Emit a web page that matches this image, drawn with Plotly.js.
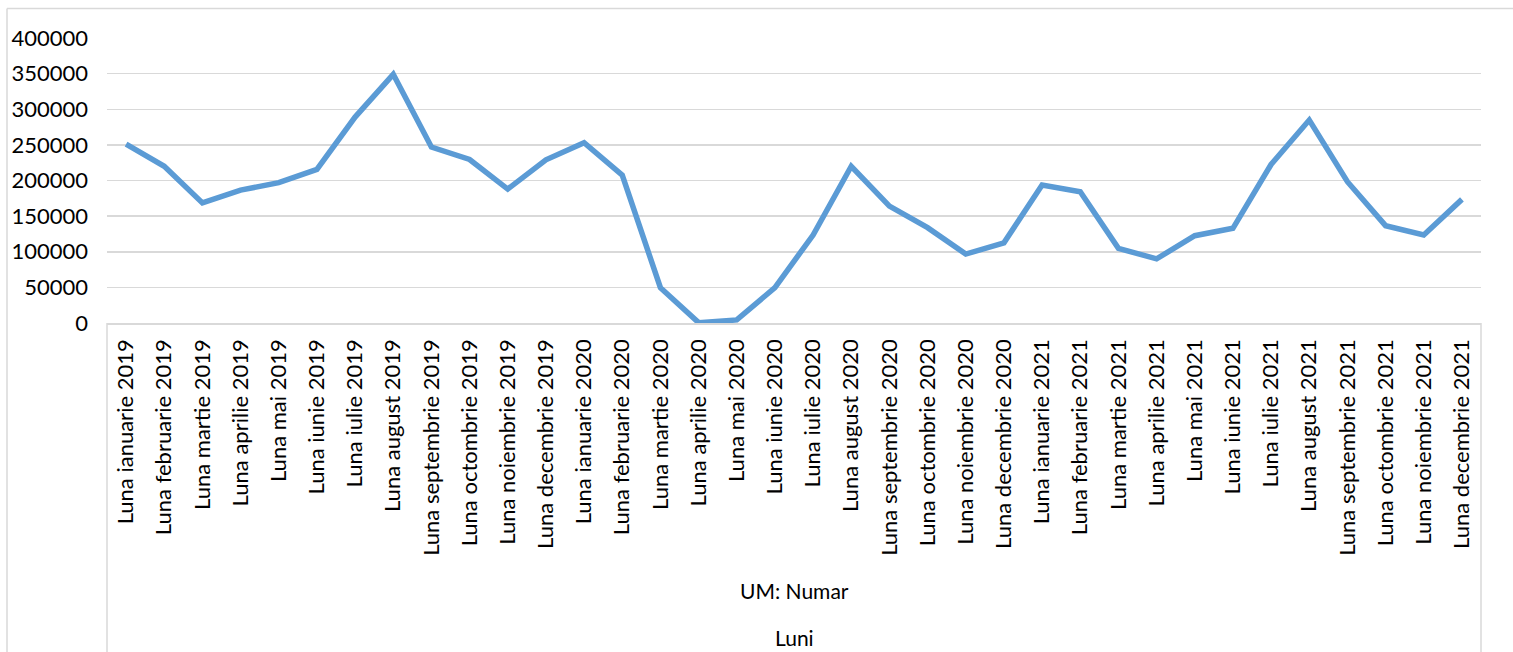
<!DOCTYPE html>
<html>
<head>
<meta charset="utf-8">
<script src="https://cdn.plot.ly/plotly-3.0.1.min.js"></script>
<style>
html,body{margin:0;padding:0;background:#fff;}
#chart{width:1513px;height:652px;}
</style>
</head>
<body>
<div id="chart"></div>
<script>
const months = [
  "Luna ianuarie 2019","Luna februarie 2019","Luna martie 2019","Luna aprilie 2019",
  "Luna mai 2019","Luna iunie 2019","Luna iulie 2019","Luna august 2019",
  "Luna septembrie 2019","Luna octombrie 2019","Luna noiembrie 2019","Luna decembrie 2019",
  "Luna ianuarie 2020","Luna februarie 2020","Luna martie 2020","Luna aprilie 2020",
  "Luna mai 2020","Luna iunie 2020","Luna iulie 2020","Luna august 2020",
  "Luna septembrie 2020","Luna octombrie 2020","Luna noiembrie 2020","Luna decembrie 2020",
  "Luna ianuarie 2021","Luna februarie 2021","Luna martie 2021","Luna aprilie 2021",
  "Luna mai 2021","Luna iunie 2021","Luna iulie 2021","Luna august 2021",
  "Luna septembrie 2021","Luna octombrie 2021","Luna noiembrie 2021","Luna decembrie 2021"
];
const values = [
  251000, 220000, 168500, 186500, 197000, 215500, 289000, 349000,
  247000, 229500, 188000, 229000, 253000, 207500, 49600, 500,
  4300, 49800, 123500, 220000, 164000, 133800, 96800, 112500,
  193800, 184200, 104800, 90000, 122500, 132900, 222500, 284800,
  198300, 136600, 123500, 173500
];
const yTicks = [0, 50000, 100000, 150000, 200000, 250000, 300000, 350000, 400000];
const unitLabel = "UM: Numar";
const axisLabel = "Luni";

const W = 1513, H = 652;
const L = 107, R = 32, T = 38, B = 329;
const pw = W - L - R, ph = H - T - B;
const px = x => (x - L) / pw;
const py = y => (H - B - y) / ph;

const font = "Lato, 'Open Sans', sans-serif";
const grid = "#D9D9D9";

const trace = {
  type: "scatter",
  mode: "lines",
  x: months,
  y: values,
  line: {color: "#5B9BD5", width: 5.5, shape: "linear"},
  hoverinfo: "x+y"
};

const layout = {
  width: W, height: H,
  margin: {l: L, r: R, t: T, b: B, pad: 0},
  paper_bgcolor: "#fff",
  plot_bgcolor: "#fff",
  showlegend: false,
  font: {family: font, size: 22, color: "#000"},
  xaxis: {
    type: "category",
    tickangle: -90,
    showgrid: false,
    zeroline: false,
    showline: true,
    linecolor: grid,
    linewidth: 1.5,
    ticks: "",
    ticklabelstandoff: 6,
    tickfont: {family: font, size: 22, color: "#000"},
    automargin: false,
    range: [-0.5, months.length - 0.5]
  },
  yaxis: {
    range: [0, 400000],
    tickvals: yTicks,
    ticktext: yTicks.map(v => String(v)),
    showgrid: true,
    gridcolor: grid,
    gridwidth: 1.5,
    zeroline: false,
    showline: false,
    ticks: "",
    ticklabelstandoff: 18,
    tickfont: {family: font, size: 22, color: "#000"},
    automargin: false,
    fixedrange: true
  },
  shapes: [
    {type: "line", xref: "paper", yref: "paper", x0: px(7), x1: px(7), y0: py(8.5), y1: py(700), line: {color: grid, width: 1.5}},
    {type: "line", xref: "paper", yref: "paper", x0: px(7), x1: px(1530), y0: py(8.5), y1: py(8.5), line: {color: grid, width: 1.5}},
    {type: "line", xref: "paper", yref: "paper", x0: 0, x1: 0, y0: 0, y1: py(700), line: {color: grid, width: 1.5}},
    {type: "line", xref: "paper", yref: "paper", x0: 1, x1: 1, y0: 0, y1: py(700), line: {color: grid, width: 1.5}}
  ],
  annotations: [
    {text: unitLabel, xref: "paper", yref: "paper", x: 0.5, y: py(590), xanchor: "center", yanchor: "middle", showarrow: false, font: {family: font, size: 21, color: "#000"}},
    {text: axisLabel, xref: "paper", yref: "paper", x: 0.5, y: py(637), xanchor: "center", yanchor: "middle", showarrow: false, font: {family: font, size: 21, color: "#000"}}
  ]
};

Plotly.newPlot("chart", [trace], layout, {displayModeBar: false, staticPlot: true});
</script>
</body>
</html>
